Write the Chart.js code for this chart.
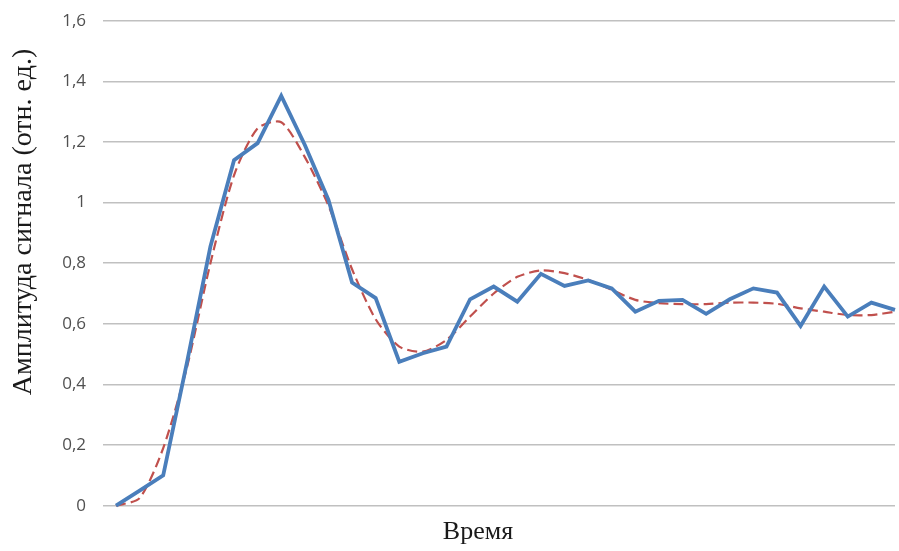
<!DOCTYPE html>
<html lang="ru">
<head>
<meta charset="utf-8">
<title>Амплитуда сигнала</title>
<script src="https://cdn.jsdelivr.net/npm/chart.js@4.4.1/dist/chart.umd.min.js"></script>
<style>
  html, body { margin: 0; padding: 0; background: #ffffff; }
  #wrap { width: 899px; height: 551px; }
</style>
</head>
<body>
<div id="wrap"><canvas id="chart" width="899" height="551"></canvas></div>
<script>
// Отсчёты времени (подписи по оси X не выводятся)
const timeSteps = [1, 2, 3, 4, 5, 6, 7, 8, 9, 10, 11, 12, 13, 14, 15, 16, 17,
                   18, 19, 20, 21, 22, 23, 24, 25, 26, 27, 28, 29, 30, 31, 32, 33, 34];

// Измеренная амплитуда сигнала
const measured = [0, 0.05, 0.10, 0.47, 0.855, 1.14, 1.196, 1.352, 1.19, 1.009,
                  0.736, 0.685, 0.475, 0.503, 0.525, 0.681, 0.723, 0.673, 0.765, 0.725,
                  0.743, 0.717, 0.640, 0.676, 0.679, 0.633, 0.681, 0.717, 0.703, 0.593,
                  0.723, 0.624, 0.670, 0.646];

// Сглаженная (аппроксимирующая) кривая
const smoothed = [0, 0.025, 0.19, 0.455, 0.80, 1.09, 1.245, 1.265, 1.15, 0.99,
                  0.78, 0.615, 0.525, 0.508, 0.547, 0.624, 0.700, 0.755, 0.776, 0.767,
                  0.745, 0.712, 0.679, 0.668, 0.665, 0.665, 0.670, 0.670, 0.666, 0.651,
                  0.640, 0.629, 0.629, 0.640];

// Подписи делений оси Y
const yTickLabels = ['0', '0,2', '0,4', '0,6', '0,8', '1', '1,2', '1,4', '1,6'];

const yTitle = 'Амплитуда сигнала (отн. ед.)';
const xTitle = 'Время';

// Подписи осей в стиле Times
const axisCaptions = {
  id: 'axisCaptions',
  afterDraw(chart) {
    const ctx = chart.ctx;
    ctx.save();
    ctx.fillStyle = '#1a1a1a';
    ctx.textAlign = 'center';
    ctx.textBaseline = 'middle';
    ctx.font = '26px "Liberation Serif", "DejaVu Serif", serif';
    ctx.fillText(xTitle, 478, 532);
    ctx.font = '28px "Liberation Serif", "DejaVu Serif", serif';
    ctx.translate(24, 222);
    ctx.rotate(-Math.PI / 2);
    ctx.fillText(yTitle, 0, 0);
    ctx.restore();
  }
};

new Chart(document.getElementById('chart'), {
  type: 'line',
  data: {
    labels: timeSteps,
    datasets: [
      {
        label: 'Сигнал',
        data: measured,
        borderColor: '#4a7ebb',
        borderWidth: 3.8,
        pointRadius: 0,
        tension: 0,
        clip: false,
        borderJoinStyle: 'miter'
      },
      {
        label: 'Аппроксимация',
        data: smoothed,
        borderColor: '#c0504d',
        borderWidth: 2.2,
        borderDash: [10, 5],
        pointRadius: 0,
        tension: 0.25,
        clip: false
      }
    ]
  },
  options: {
    responsive: false,
    animation: false,
    devicePixelRatio: 1,
    layout: { padding: { top: 20.7, right: 4, bottom: 0, left: 0 } },
    plugins: {
      legend: { display: false },
      tooltip: { enabled: false }
    },
    scales: {
      x: {
        type: 'category',
        offset: false,
        ticks: { display: false },
        grid: { display: false },
        border: { display: false },
        afterFit(scale) { scale.height = 45.3; }
      },
      y: {
        min: 0,
        max: 1.6,
        ticks: {
          stepSize: 0.2,
          padding: 17,
          color: '#505050',
          font: { family: '"Open Sans", "Liberation Sans", sans-serif', size: 17 },
          callback: (value, index) => yTickLabels[index]
        },
        grid: {
          color: '#c0c0c0',
          lineWidth: 1.5,
          drawTicks: true,
          tickLength: 13,
          tickColor: '#c0c0c0'
        },
        border: { display: false },
        afterFit(scale) {
          scale.width = 116;
          scale.paddingTop = 0;
          scale.paddingBottom = 0;
        }
      }
    }
  },
  plugins: [axisCaptions]
});
</script>
</body>
</html>
